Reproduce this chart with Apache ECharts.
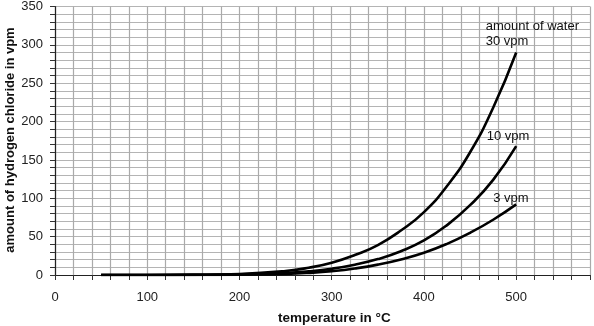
<!DOCTYPE html>
<html>
<head>
<meta charset="utf-8">
<script src="https://cdn.jsdelivr.net/npm/echarts@6/dist/echarts.min.js"></script>
<style>
  html, body { margin: 0; padding: 0; background: #fff; }
  #chart { width: 594px; height: 326px; }
</style>
</head>
<body>
<div id="chart"></div>
<script>
// temperature in °C
const temps = [50, 100, 150, 200, 250, 275, 300, 325, 350, 375, 400, 425, 450, 475, 500];
// amount of HCl in vpm, per water content
const water30 = [0, 0.05, 0.3, 1.4, 5.3, 9.5, 16, 26, 39, 58, 82, 116, 160, 218, 290];
const water10 = [0, 0.05, 0.2, 0.8, 2.7, 4.8, 8.2, 13.4, 20.7, 31, 45, 65, 91, 124, 168];
const water3 = [0, 0, 0.1, 0.5, 1.5, 2.8, 5, 8.5, 13.5, 20.3, 29, 40.6, 55, 72, 92];

const font = 'Liberation Sans, Arial, sans-serif';
const toPairs = (vals) => temps.map((t, i) => [t, vals[i]]);

const labelPoint = (coord, text) => ({
  coord: coord,
  symbolSize: 0,
  label: {
    show: true,
    formatter: text,
    position: 'inside',
    align: 'left',
    verticalAlign: 'middle',
    color: '#111',
    fontSize: 13,
    fontFamily: font,
    lineHeight: 16
  }
});

const mkSeries = (name, vals, mark) => ({
  name: name,
  type: 'line',
  smooth: true,
  symbol: 'none',
  data: toPairs(vals),
  lineStyle: { color: '#000', width: 2.6 },
  markPoint: { symbol: 'circle', symbolSize: 0, data: mark, animation: false },
  animation: false
});

const chart = echarts.init(document.getElementById('chart'));
const option = {
  backgroundColor: '#fff',
  grid: { left: 55, right: 4, top: 2, bottom: 51 },
  xAxis: {
    type: 'value',
    min: 0,
    max: 580,
    interval: 20,
    axisLine: { lineStyle: { color: '#222', width: 1.2 } },
    axisTick: { length: 5, lineStyle: { color: '#333' } },
    axisLabel: {
      margin: 16,
      color: '#222',
      fontSize: 13,
      fontFamily: font,
      formatter: v => (v % 100 === 0 ? String(v) : '')
    },
    splitLine: { lineStyle: { color: '#aaaaaa', width: 1.2 } }
  },
  yAxis: {
    type: 'value',
    min: 0,
    max: 350,
    interval: 10,
    axisLine: { show: true, lineStyle: { color: '#222', width: 1.2 } },
    axisTick: { show: true, length: 5, lineStyle: { color: '#333' } },
    axisLabel: {
      margin: 12,
      color: '#222',
      fontSize: 13,
      fontFamily: font,
      formatter: v => (v % 50 === 0 ? String(v) : '')
    },
    splitLine: { lineStyle: { color: '#b4b4b4', width: 1.2 } }
  },
  graphic: [
    {
      type: 'text',
      left: 278,
      top: 311,
      style: { text: 'temperature in °C', font: 'bold 13.5px ' + font, fill: '#111' }
    },
    {
      type: 'text',
      x: 4,
      y: 140,
      rotation: Math.PI / 2,
      style: {
        text: 'amount of hydrogen chloride in vpm',
        font: 'bold 13px ' + font,
        fill: '#111',
        align: 'center',
        verticalAlign: 'top'
      }
    }
  ],
  series: [
    mkSeries('30 vpm', water30, [
      labelPoint([467, 324], 'amount of water'),
      labelPoint([467, 304], '30 vpm')
    ]),
    mkSeries('10 vpm', water10, [labelPoint([468, 181], '10 vpm')]),
    mkSeries('3 vpm', water3, [labelPoint([475, 100], '3 vpm')])
  ]
};
chart.setOption(option);
</script>
</body>
</html>
